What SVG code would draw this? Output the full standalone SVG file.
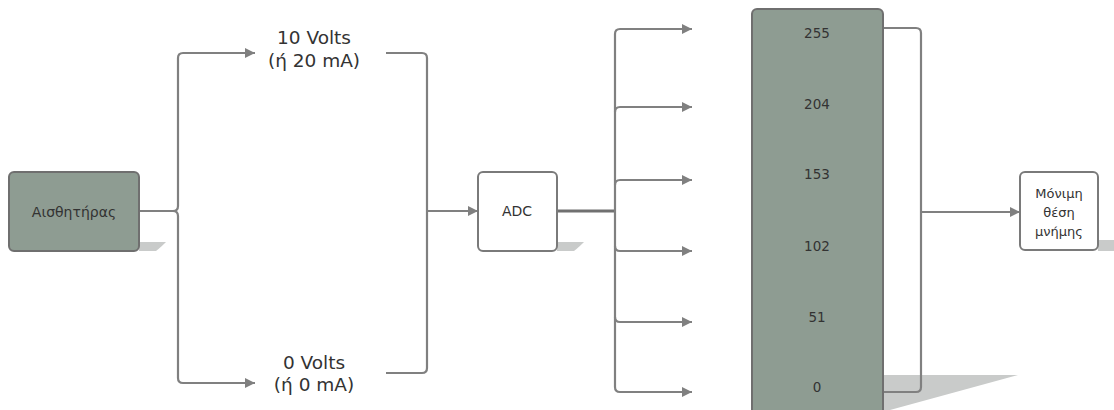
<svg xmlns="http://www.w3.org/2000/svg" width="1114" height="410" viewBox="0 0 1114 410">
<style>
.node{fill:#8e9c92;stroke:#6f6f6f;stroke-width:2}
.wnode{fill:#ffffff;stroke:#7a7a7a;stroke-width:2}
.shadow{fill:#c9cbca}
.line{fill:none;stroke:#808080;stroke-width:2.2}
.thick{fill:none;stroke:#707070;stroke-width:3.2}
.t{font-family:"DejaVu Sans",Verdana,sans-serif;fill:#333;text-anchor:middle;dominant-baseline:central}
.big{font-size:18.5px}
.sm{font-size:14px}
.xs{font-size:13.5px}
.mm{font-size:13px}
</style>
<defs>
<marker id="ah" viewBox="0 0 10 10" refX="10" refY="5" markerWidth="10" markerHeight="10" markerUnits="userSpaceOnUse" orient="auto">
<path d="M0,0 L10,5 L0,10 Z" fill="#808080"/>
</marker>
</defs>

<g id="connectors">
<path class="line" d="M139,211 H173 Q178,211 178,206 V58 Q178,53 183,53 H255" marker-end="url(#ah)"/>
<path class="line" d="M173,211 Q178,211 178,216 V378 Q178,383 183,383 H255" marker-end="url(#ah)"/>
<path class="line" d="M386,53 H422 Q427,53 427,58 V368 Q427,373 422,373 H386"/>
<path class="line" d="M427,211 H478" marker-end="url(#ah)"/>
<path class="thick" d="M557,211 H615"/>
<path class="line" d="M615,211 V34 Q615,29 620,29 H692" marker-end="url(#ah)"/>
<path class="line" d="M615,112 Q615,107 620,107 H692" marker-end="url(#ah)"/>
<path class="line" d="M615,185 Q615,180 620,180 H692" marker-end="url(#ah)"/>
<path class="line" d="M615,211 V387 Q615,392 620,392 H692" marker-end="url(#ah)"/>
<path class="line" d="M615,246 Q615,251 620,251 H692" marker-end="url(#ah)"/>
<path class="line" d="M615,317 Q615,322 620,322 H692" marker-end="url(#ah)"/>
<path class="line" d="M921,212 H1020" marker-end="url(#ah)"/>
</g>

<g id="sensor">
<path class="shadow" d="M139,242 H166 Q160,248 156,251 H139 Z"/>
<rect class="node" x="9" y="172" width="130" height="79" rx="5"/>
<text class="t sm" x="74" y="212">Αισθητήρας</text>
</g>

<g id="v10">
<text class="t big" x="314" y="37">10 Volts</text>
<text class="t big" x="314" y="60">(ή 20 mA)</text>
</g>

<g id="v0">
<text class="t big" x="314" y="362">0 Volts</text>
<text class="t big" x="314" y="384">(ή 0 mA)</text>
</g>

<g id="adc">
<path class="shadow" d="M557,242 H584 Q578,248 574,251 H557 Z"/>
<rect class="wnode" x="478" y="172" width="79" height="79" rx="5"/>
<text class="t sm" x="517" y="211">ADC</text>
</g>

<g id="column">
<path class="shadow" d="M883,375 H1018 L890,410 H883 Z"/>
<path class="line" d="M883,28 H916 Q921,28 921,33 V387 Q921,392 916,392 H883"/>
<rect class="node" x="752" y="9" width="131" height="410" rx="5"/>
<text class="t xs" x="817" y="33">255</text>
<text class="t xs" x="817" y="104">204</text>
<text class="t xs" x="817" y="174">153</text>
<text class="t xs" x="817" y="246">102</text>
<text class="t xs" x="817" y="317">51</text>
<text class="t xs" x="817" y="387">0</text>
</g>

<g id="memory">
<path class="shadow" d="M1098,240 H1114 V251 H1098 Z"/>
<rect class="wnode" x="1020" y="172" width="78" height="78" rx="5"/>
<text class="t mm" x="1059" y="193">Μόνιμη</text>
<text class="t mm" x="1059" y="212">θέση</text>
<text class="t mm" x="1059" y="231">μνήμης</text>
</g>
</svg>
